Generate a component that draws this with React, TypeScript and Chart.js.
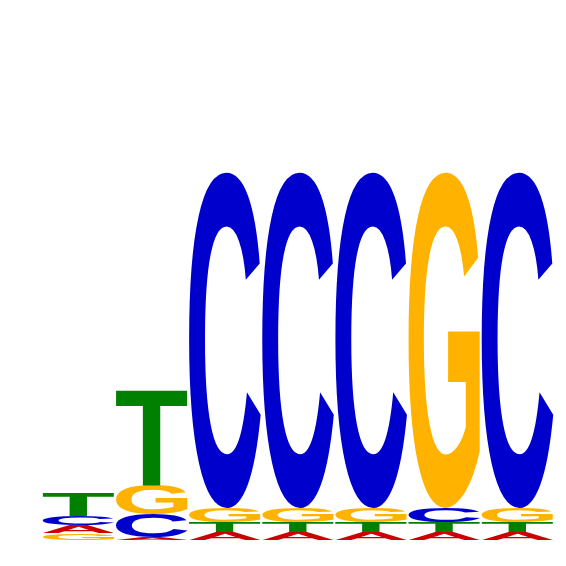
import { useEffect, useRef } from "react";
import { Chart, registerables } from "chart.js";

Chart.register(...registerables);

// sequence logo: information (bits) per letter at each position
const positions = ["1", "2", "3", "4", "5", "6", "7"];
const letters = ["A", "C", "G", "T"];
const bitsA = [0.032, 0.01, 0.032, 0.032, 0.032, 0.032, 0.032];
const bitsC = [0.036, 0.092, 1.344, 1.344, 1.344, 0.056, 1.344];
const bitsG = [0.028, 0.12, 0.056, 0.056, 0.056, 1.344, 0.056];
const bitsT = [0.092, 0.38, 0.04, 0.04, 0.04, 0.04, 0.04];

const letterColors: Record<string, string> = {
  A: "#CC0000",
  C: "#0000CC",
  G: "#FFB300",
  T: "#008000"
};

// stack letters per column, smallest at the bottom
function floatingBars() {
  const series = [bitsA, bitsC, bitsG, bitsT];
  const out: [number, number][][] = letters.map(() => []);
  positions.forEach((_, p) => {
    const order = letters.map((_, i) => i).sort((a, b) => series[a][p] - series[b][p]);
    let base = 0;
    order.forEach((i) => {
      out[i][p] = [base, base + series[i][p]];
      base += series[i][p];
    });
  });
  return out;
}

const letterPlugin = {
  id: "logoLetters",
  afterDatasetsDraw(chart: Chart) {
    const ctx = chart.ctx;
    chart.data.datasets.forEach((ds: any, i: number) => {
      const letter = ds.label as string;
      const meta = chart.getDatasetMeta(i);
      meta.data.forEach((bar: any) => {
        const { x, y, base, width } = bar.getProps(["x", "y", "base", "width"], true);
        const top = Math.min(y, base);
        const h = Math.abs(base - y);
        if (h < 0.3) return;
        ctx.save();
        ctx.font = "bold 200px 'Liberation Sans'";
        ctx.textAlign = "left";
        ctx.textBaseline = "alphabetic";
        const m = ctx.measureText(letter);
        const gw = m.actualBoundingBoxLeft + m.actualBoundingBoxRight;
        const gh = m.actualBoundingBoxAscent + m.actualBoundingBoxDescent;
        ctx.translate(x - width / 2, top);
        ctx.scale(width / gw, h / gh);
        ctx.fillStyle = letterColors[letter];
        ctx.fillText(letter, m.actualBoundingBoxLeft, m.actualBoundingBoxAscent);
        ctx.restore();
      });
    });
  }
};

export default function App() {
  const chartRef = useRef<HTMLCanvasElement | null>(null);

  useEffect(() => {
    if (!chartRef.current) return;
    document.body.style.margin = "0";

    const bars = floatingBars();
    const chart = new Chart(chartRef.current, {
      type: "bar",
      data: {
        labels: positions,
        datasets: letters.map((l, i) => ({
          label: l,
          data: bars[i],
          backgroundColor: "rgba(0,0,0,0)",
          borderWidth: 0,
          grouped: false,
          categoryPercentage: 1,
          barPercentage: 0.98
        }))
      },
      options: {
        responsive: false,
        animation: false,
        layout: { padding: { left: 42, right: 12, top: 40, bottom: 26 } },
        plugins: {
          legend: { display: false },
          tooltip: { enabled: false }
        },
        scales: {
          x: { display: false },
          y: { display: false, min: 0, max: 2 }
        }
      },
      plugins: [letterPlugin]
    });

    return () => chart.destroy();
  }, []);

  return (
    <div style={{ width: 566, height: 566 }}>
      <canvas ref={chartRef} width={566} height={566} />
    </div>
  );
}
